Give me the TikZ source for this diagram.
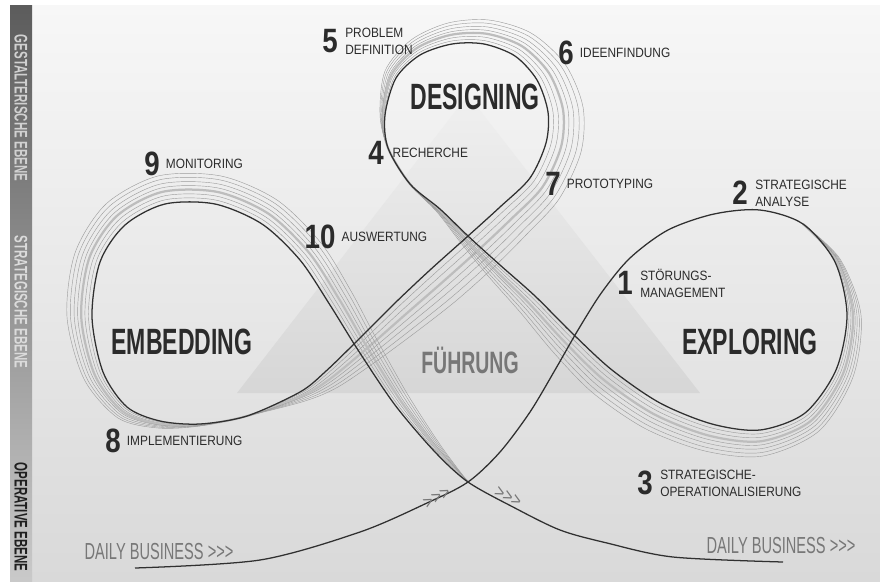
\documentclass[tikz,border=0pt]{standalone}
\usepackage{fontspec}
\setmainfont{Liberation Sans}
\newfontfamily\condfont[FakeStretch=0.63]{Liberation Sans}
\newfontfamily\numfont[FakeStretch=0.82]{Liberation Sans}
\newfontfamily\labfont[FakeStretch=0.88]{Liberation Sans}
\usetikzlibrary{positioning}

\definecolor{inkdark}{HTML}{2B2B2B}
\definecolor{inkgray}{HTML}{777777}
\definecolor{linedark}{HTML}{303030}
\definecolor{ribbongray}{HTML}{9C9C9C}
\definecolor{ribbonlight}{HTML}{BDBDBD}
\definecolor{bgtop}{HTML}{F7F7F7}
\definecolor{bgmid}{HTML}{EDEDED}
\definecolor{bgbottom}{HTML}{D9D9D9}

\tikzset{
  phase/.style={font=\condfont\bfseries\fontsize{26}{26}\selectfont, text=inkdark, inner sep=0pt},
  stepnum/.style={font=\numfont\bfseries\fontsize{24}{24}\selectfont, text=inkdark, inner sep=0pt},
  steplabel/.style={font=\labfont\fontsize{9.6}{12}\selectfont, text=inkdark, inner sep=0pt, align=left},
  level/.style={font=\condfont\bfseries\fontsize{13}{13}\selectfont, rotate=-90, inner sep=0pt},
  daily/.style={font=\condfont\fontsize{16.5}{16.5}\selectfont, text=inkgray, inner sep=0pt},
  chevrons/.style={font=\labfont\fontsize{13}{13}\selectfont, text=inkgray, inner sep=0pt},
  mainline/.style={draw=linedark, line width=0.9pt},
  ribbon/.style={draw=ribbongray, line width=0.3pt},
  ribbonband/.style={draw=ribbonlight, line width=1.6pt},
}

% x/y of the loop path, then the outer offset of the widest ribbon line
\newcommand\looppoints{803/224/0/0, 835/262/5/-3, 847/315/14/0, 836/370/17/7,
  805/413/14/18, 760/430/3/26, 712/424/-7/27, 660/403/-14/26, 612/370/-19/23,
  573/334/-19/19, 535/296/-15/16, 500/265/-11/12, 468/236/-7/7, 440/209/-3/3,
  410/184/0/0, 388/148/0/0, 385/115/-5/0, 396/78/-11/-7, 420/55/-9/-15,
  452/44/-4/-21, 484/44/5/-24, 515/56/16/-23, 537/80/28/-16, 548/112/35/-5,
  546/143/35/9, 530/178/29/21, 500/207/26/28, 468/236/27/30, 430/270/27/30,
  395/303/25/26, 358/340/20/20, 325/372/13/15, 300/392/5/9, 247/416/0/0,
  200/424/0/2, 160/421/-2/7, 127/407/-9/11, 103/372/-19/7, 92/317/-25/0,
  100/262/-25/-9, 125/225/-19/-21, 165/204/-7/-28, 215/204/6/-28, 262/224/15/-24,
  300/260/21/-17, 330/305/21/-14, 358/350/18/-12, 395/405/13/-10, 435/452/6/-6,
  468/482/0/0}

\begin{document}
\begin{tikzpicture}[x=0.025cm, y=-0.025cm]
  \useasboundingbox (0,0) rectangle (880,581);

  % background and level bar
  \fill[white] (0,0) rectangle (880,581);
  \shade[top color=bgtop, middle color=bgmid, bottom color=bgbottom] (32,5) rectangle (880,581);
  \shade[top color=black!64, middle color=black!45, bottom color=black!21] (10,5) rectangle (32,581);

  \node[level, text=black!18] (gestalt) at (21,108) {GESTALTERISCHE EBENE};
  \node[level, text=black!14] (strat) at (21,302) {STRATEGISCHE EBENE};
  \node[level, text=black!88] (operativ) at (21,517) {OPERATIVE EBENE};

  % leadership triangle
  \shade[top color=black!6, bottom color=black!16] (237,393) -- (468,95) -- (700,393) -- cycle;
  \node[phase, text=inkgray, font=\condfont\bfseries\fontsize{22}{22}\selectfont] (fuehrung) at (470,360) {FÜHRUNG};

  % ribbon of thin lines along the loops
  \foreach \f/\sty in {0.14/ribbon, 0.28/ribbon, 0.43/ribbonband, 0.57/ribbon, 0.71/ribbon, 0.86/ribbon, 1/ribbon} {
    \gdef\ribbonpath{}
    \foreach \x/\y/\dx/\dy in \looppoints {\xdef\ribbonpath{\ribbonpath ({\x+\f*(\dx)},{\y+\f*(\dy)})}}
    \edef\drawribbon{\noexpand\draw[\sty] plot[smooth] coordinates {\ribbonpath};}
    \drawribbon
  }

  % main line, from daily business through all three loops
  \gdef\ribbonpath{}
  \foreach \x/\y/\dx/\dy in \looppoints {\xdef\ribbonpath{\ribbonpath (\x,\y)}}
  \edef\drawmain{\noexpand\draw[mainline] plot[smooth] coordinates {(135,568) (260,560) (360,532) (427,503)
    (468,482) (500,452) (530,412) (555,370) (578,330) (602,292) (630,258) (668,230) (714,214) (760,210)
    \ribbonpath (513,507) (560,530) (607,543) (673,557) (783,562)};}
  \drawmain

  % phases
  \node[phase] (designing) at (475,97) {DESIGNING};
  \node[phase] (embedding) at (182,342) {EMBEDDING};
  \node[phase] (exploring) at (750,342) {EXPLORING};

  % numbered steps
  \node[stepnum] (n1) at (625,283) {1};
  \node[steplabel, right=5pt of n1] (l1) {STÖRUNGS-\\MANAGEMENT};
  \node[stepnum] (n2) at (740,193) {2};
  \node[steplabel, right=5pt of n2] (l2) {STRATEGISCHE\\ANALYSE};
  \node[stepnum] (n3) at (645,483) {3};
  \node[steplabel, right=5pt of n3] (l3) {STRATEGISCHE-\\OPERATIONALISIERUNG};
  \node[stepnum] (n4) at (376,153) {4};
  \node[steplabel, right=6pt of n4] (l4) {RECHERCHE};
  \node[stepnum] (n5) at (330,41) {5};
  \node[steplabel, right=5pt of n5] (l5) {PROBLEM\\DEFINITION};
  \node[stepnum] (n6) at (566,53) {6};
  \node[steplabel, right=4pt of n6] (l6) {IDEENFINDUNG};
  \node[stepnum] (n7) at (553,184) {7};
  \node[steplabel, right=4pt of n7] (l7) {PROTOTYPING};
  \node[stepnum] (n8) at (113,441) {8};
  \node[steplabel, right=4pt of n8] (l8) {IMPLEMENTIERUNG};
  \node[stepnum] (n9) at (152,164) {9};
  \node[steplabel, right=4pt of n9] (l9) {MONITORING};
  \node[stepnum] (n10) at (320,237) {10};
  \node[steplabel, right=4pt of n10] (l10) {AUSWERTUNG};

  % daily business
  \node[daily] (dailyin) at (159,551) {DAILY BUSINESS >{}>{}>};
  \node[daily] (dailyout) at (781,545) {DAILY BUSINESS >{}>{}>};
  \node[chevrons, rotate=28] (chevin) at (437,498) {>{}>{}>};
  \node[chevrons, rotate=-28] (chevout) at (508,497) {>{}>{}>};
\end{tikzpicture}
\end{document}
